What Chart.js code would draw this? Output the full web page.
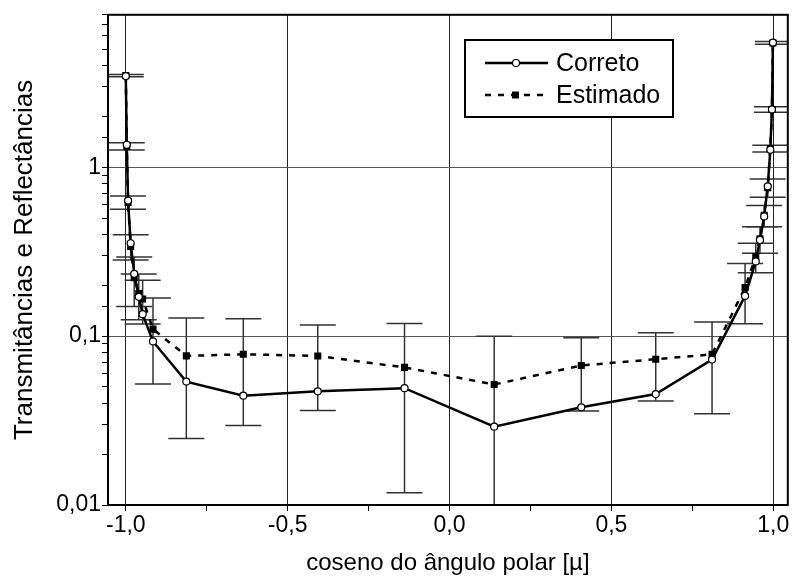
<!DOCTYPE html>
<html>
<head>
<meta charset="utf-8">
<script src="https://cdn.jsdelivr.net/npm/chart.js@4/dist/chart.umd.min.js"></script>
<style>
  body { margin: 0; background: #fff; }
  canvas { display: block; }
</style>
</head>
<body>
<canvas id="grafico" width="793" height="581"></canvas>
<script>
// cosseno do angulo polar (abscissas)
const mu = [-1.0, -0.997, -0.993, -0.985, -0.974, -0.960, -0.948, -0.916, -0.813, -0.637, -0.407, -0.139,
            0.138, 0.407, 0.637, 0.811, 0.913, 0.946, 0.959, 0.972, 0.983, 0.991, 0.996, 0.999];
const correto = [3.47, 1.36, 0.635, 0.355, 0.234, 0.171, 0.135, 0.093, 0.0538, 0.0444, 0.0471, 0.0492,
                 0.0291, 0.0379, 0.0454, 0.0727, 0.173, 0.277, 0.371, 0.512, 0.771, 1.27, 2.20, 5.48];
const estimado = [3.49, 1.33, 0.62, 0.34, 0.222, 0.179, 0.166, 0.110, 0.0764, 0.0781, 0.0763, 0.0653,
                  0.0517, 0.0670, 0.0730, 0.0780, 0.194, 0.296, 0.377, 0.519, 0.758, 1.29, 2.20, 5.45];
const erro = [0.055, 0.066, 0.056, 0.058, 0.072, 0.054, 0.048, 0.058, 0.0516, 0.0485, 0.040, 0.0535,
              0.048, 0.031, 0.0317, 0.0433, 0.0755, 0.059, 0.067, 0.075, 0.093, 0.06, 0.083, 0.1];
const xTicksMajor = [-1.0, -0.5, 0.0, 0.5, 1.0];

const fonte = 'Liberation Sans, Arial, sans-serif';

function formatoX(v) {
    return v.toFixed(1).replace('.', ',');
}

function formatoY(v) {
    let e = Math.round(Math.log10(v));
    if (Math.abs(Math.log10(v) - e) > 1e-6) return '';
    if (e >= 0) return String(Math.pow(10, e));
    return '0,' + '0'.repeat(-e - 1) + '1';
}

function ehMaiorX(v) {
    return xTicksMajor.some(m => Math.abs(m - v) < 1e-6);
}

const fundoBranco = {
    id: 'fundoBranco',
    beforeDraw(chart) {
        const ctx = chart.ctx;
        ctx.save();
        ctx.fillStyle = '#fff';
        ctx.fillRect(0, 0, chart.width, chart.height);
        ctx.restore();
    }
};

const barrasErro = {
    id: 'barrasErro',
    beforeDatasetsDraw(chart) {
        const ctx = chart.ctx;
        const area = chart.chartArea;
        const sx = chart.scales.x, sy = chart.scales.y;
        ctx.save();
        ctx.beginPath();
        ctx.rect(area.left, area.top, area.right - area.left, area.bottom - area.top);
        ctx.clip();
        ctx.strokeStyle = '#333';
        ctx.lineWidth = 1.5;
        for (let i = 0; i < mu.length; i++) {
            let px = sx.getPixelForValue(mu[i]);
            let top = sy.getPixelForValue(estimado[i] + erro[i]);
            let low = estimado[i] - erro[i];
            let bottom = low > 0 ? sy.getPixelForValue(low) : area.bottom + 5;
            ctx.beginPath();
            ctx.moveTo(px, top);
            ctx.lineTo(px, bottom);
            ctx.moveTo(px - 18, top);
            ctx.lineTo(px + 18, top);
            if (low > 0) {
                ctx.moveTo(px - 18, bottom);
                ctx.lineTo(px + 18, bottom);
            }
            ctx.stroke();
        }
        ctx.restore();
    }
};

const moldura = {
    id: 'moldura',
    afterDraw(chart) {
        const ctx = chart.ctx;
        const a = chart.chartArea;
        ctx.save();
        ctx.strokeStyle = '#000';
        ctx.lineWidth = 2;
        ctx.strokeRect(a.left, a.top, a.right - a.left, a.bottom - a.top);

        // legenda
        const lx = 465, ly = 40, lw = 208, lh = 77;
        ctx.fillStyle = '#fff';
        ctx.fillRect(lx, ly, lw, lh);
        ctx.strokeRect(lx, ly, lw, lh);
        const linhas = [
            { nome: 'Correto', y: ly + 23, dash: [], marca: 'circulo' },
            { nome: 'Estimado', y: ly + 55, dash: [6, 7], marca: 'quadrado' }
        ];
        linhas.forEach(l => {
            ctx.strokeStyle = '#000';
            ctx.lineWidth = 2.5;
            ctx.setLineDash(l.dash);
            ctx.beginPath();
            ctx.moveTo(lx + 20, l.y);
            ctx.lineTo(lx + 83, l.y);
            ctx.stroke();
            ctx.setLineDash([]);
            ctx.lineWidth = 1.2;
            if (l.marca === 'circulo') {
                ctx.beginPath();
                ctx.arc(lx + 51, l.y, 3.5, 0, Math.PI * 2);
                ctx.fillStyle = '#fff';
                ctx.fill();
                ctx.stroke();
            } else {
                ctx.fillStyle = '#000';
                ctx.fillRect(lx + 47, l.y - 3.5, 7, 7);
            }
            ctx.fillStyle = '#000';
            ctx.font = '25px ' + fonte;
            ctx.textAlign = 'left';
            ctx.textBaseline = 'middle';
            ctx.fillText(l.nome, lx + 91, l.y + 1);
        });
        ctx.restore();
    }
};

const ctx = document.getElementById('grafico').getContext('2d');
new Chart(ctx, {
    type: 'scatter',
    data: {
        datasets: [{
            label: 'Correto',
            data: mu.map((m, i) => ({ x: m, y: correto[i] })),
            showLine: true,
            borderColor: '#000',
            borderWidth: 2.5,
            pointRadius: 3.5,
            pointBorderWidth: 1.2,
            pointBackgroundColor: '#fff',
            pointBorderColor: '#000',
            pointStyle: 'circle'
        }, {
            label: 'Estimado',
            data: mu.map((m, i) => ({ x: m, y: estimado[i] })),
            showLine: true,
            borderColor: '#000',
            borderWidth: 2.5,
            borderDash: [6, 7],
            pointRadius: 5,
            pointBorderWidth: 0,
            pointBackgroundColor: '#000',
            pointStyle: 'rect'
        }]
    },
    options: {
        responsive: false,
        animation: false,
        layout: { padding: { top: 8, right: 3, left: 0, bottom: 0 } },
        plugins: {
            legend: { display: false },
            tooltip: { enabled: false }
        },
        scales: {
            x: {
                type: 'linear',
                min: -1.055,
                max: 1.045,
                afterFit: s => { s.height = 76; },
                ticks: {
                    stepSize: 0.25,
                    includeBounds: false,
                    autoSkip: false,
                    maxRotation: 0,
                    padding: 1,
                    color: '#000',
                    font: { family: fonte, size: 23 },
                    callback: v => ehMaiorX(v) ? formatoX(v) : ''
                },
                grid: {
                    color: c => (c.tick && ehMaiorX(c.tick.value)) ? '#222' : 'rgba(0,0,0,0)',
                    tickColor: '#000',
                    tickLength: 6,
                    lineWidth: 1
                },
                border: { display: true, color: '#000', width: 2 },
                title: {
                    display: true,
                    text: 'coseno do ângulo polar [µ]',
                    color: '#000',
                    font: { family: fonte, size: 24 },
                    padding: { top: 0, bottom: 3 }
                }
            },
            y: {
                type: 'logarithmic',
                min: 0.01,
                max: 8,
                afterFit: s => { s.width = 108; },
                ticks: {
                    autoSkip: false,
                    padding: 1,
                    color: '#000',
                    font: { family: fonte, size: 23 },
                    callback: v => formatoY(v)
                },
                grid: {
                    color: c => (c.tick && formatoY(c.tick.value) !== '') ? '#555' : 'rgba(0,0,0,0)',
                    tickColor: '#000',
                    tickLength: 6,
                    lineWidth: 1
                },
                border: { display: true, color: '#000', width: 2 },
                title: {
                    display: true,
                    text: 'Transmitâncias e Reflectâncias',
                    color: '#000',
                    font: { family: fonte, size: 26 },
                    padding: { top: 9, bottom: 0 }
                }
            }
        }
    },
    plugins: [fundoBranco, barrasErro, moldura]
});
</script>
</body>
</html>
